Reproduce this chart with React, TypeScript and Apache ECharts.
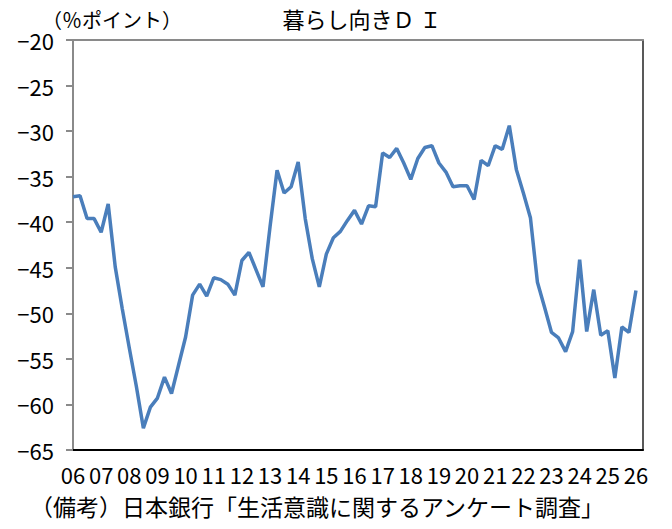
import React, { useEffect, useRef } from "react";
import * as echarts from "echarts";

const years = ["06","07","08","09","10","11","12","13","14","15","16","17","18","19","20","21","22","23","24","25","26"];
const quarters = ["Q1", "Q2", "Q3", "Q4"];
const diValues = [
  -37.2, -37.1, -39.6, -39.6, -41.1, -38.0, -44.9, -49.5, -53.8, -58.0,
  -62.6, -60.3, -59.3, -57.0, -58.8, -55.7, -52.6, -48.0, -46.8, -48.1,
  -46.1, -46.3, -46.8, -48.0, -44.2, -43.3, -45.2, -47.1, -40.5, -34.3,
  -36.8, -36.1, -33.4, -39.6, -44.0, -47.1, -43.5, -41.7, -41.0, -39.8,
  -38.7, -40.2, -38.2, -38.3, -32.4, -32.9, -31.9, -33.5, -35.3, -33.0,
  -31.8, -31.6, -33.5, -34.5, -36.1, -36.0, -36.0, -37.5, -33.2, -33.8,
  -31.6, -32.0, -29.4, -34.2, -36.8, -39.5, -46.6, -49.3, -52.1, -52.7,
  -54.2, -52.0, -44.1, -52.0, -47.4, -52.4, -51.9, -57.1, -51.5, -52.1,
  -47.5,
];
const titleText = "暮らし向きＤ Ｉ";
const unitText = "（％ポイント）";
const noteText = "（備考）日本銀行「生活意識に関するアンケート調査」";

const FONT = '"Noto Sans CJK JP", "Noto Sans", sans-serif';

export default function App() {
  const ref = useRef<HTMLDivElement>(null);
  useEffect(() => {
    document.body.style.margin = "0";
    if (!ref.current) return;
    const chart = echarts.init(ref.current, null, { renderer: "svg" });
    const categories: string[] = [];
    years.forEach((y) => quarters.forEach((q) => categories.push(y + q)));
    const cats = categories.slice(0, diValues.length + 1);
    chart.setOption({
      animation: false,
      textStyle: { fontFamily: FONT },
      grid: { left: 73, right: 29, top: 40, bottom: 79, containLabel: false },
      graphic: [
        {
          type: "text",
          x: 362,
          y: 18,
          style: { text: titleText, align: "center", verticalAlign: "middle", font: `22px ${FONT}`, fill: "#000" },
        },
        {
          type: "text",
          x: 42,
          y: 19,
          style: { text: unitText, align: "left", verticalAlign: "middle", font: `20px ${FONT}`, fill: "#000" },
        },
        {
          type: "text",
          x: 30,
          y: 506,
          style: { text: noteText, align: "left", verticalAlign: "middle", font: `23px ${FONT}`, fill: "#000" },
        },
      ],
      xAxis: [
        {
          type: "category",
          data: cats,
          boundaryGap: false,
          axisLine: { show: true, lineStyle: { color: "#000", width: 2 } },
          axisTick: { show: false },
          axisLabel: {
            interval: 3,
            margin: 13,
            color: "#000",
            fontSize: 22,
            fontFamily: FONT,
            formatter: (v: string) => v.slice(0, 2),
          },
          splitLine: { show: false },
        },
        {
          type: "category",
          position: "top",
          data: cats,
          boundaryGap: false,
          axisLine: { show: true, onZero: false, lineStyle: { color: "#8a8a8a", width: 2 } },
          axisTick: { show: false },
          axisLabel: { show: false },
          splitLine: { show: false },
        },
      ],
      yAxis: [
        {
          type: "value",
          min: -65,
          max: -20,
          interval: 5,
          axisLine: { show: true, onZero: false, lineStyle: { color: "#8a8a8a", width: 2 } },
          axisTick: { show: true, length: 7, inside: false, lineStyle: { color: "#8a8a8a", width: 2 } },
          axisLabel: {
            margin: 19,
            color: "#000",
            fontSize: 22,
            fontFamily: FONT,
            formatter: (v: number) => String(v).replace("-", "−"),
          },
          splitLine: { show: false },
        },
        {
          type: "value",
          position: "right",
          min: -65,
          max: -20,
          interval: 5,
          axisLine: { show: true, onZero: false, lineStyle: { color: "#222", width: 1.5 } },
          axisTick: { show: false },
          axisLabel: { show: false },
          splitLine: { show: false },
        },
      ],
      series: [
        {
          type: "line",
          data: diValues,
          xAxisIndex: 0,
          yAxisIndex: 0,
          showSymbol: false,
          symbol: "none",
          lineStyle: { color: "#4a7ebb", width: 3.5 },
          z: 5,
        },
      ],
    });
    return () => chart.dispose();
  }, []);
  return <div ref={ref} style={{ width: 672, height: 529 }} />;
}
